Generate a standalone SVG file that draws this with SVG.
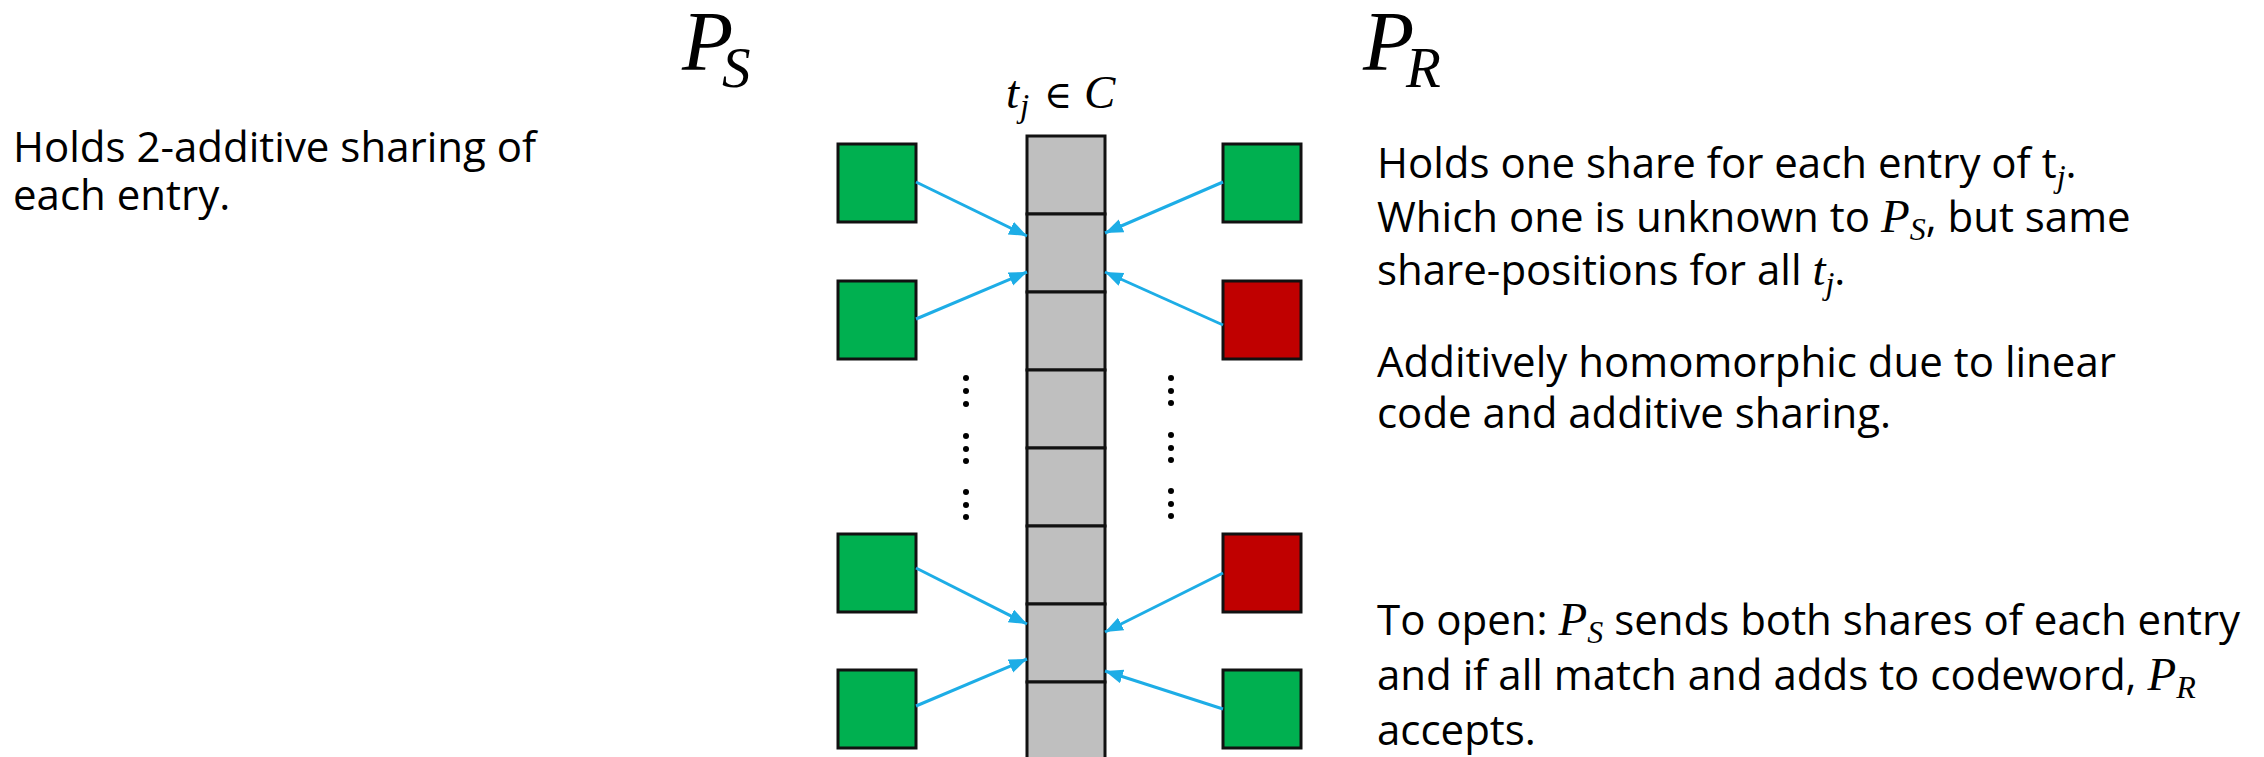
<svg xmlns="http://www.w3.org/2000/svg" width="2264" height="757" viewBox="0 0 2264 757">
  <style>
    .txt { font-family: "Open Sans", "Liberation Sans", sans-serif; font-size: 42px; fill: #000; }
    .mi { font-family: "Liberation Serif", "DejaVu Serif", serif; font-style: italic; fill: #000; }
    .sym { font-family: "DejaVu Serif", "Liberation Serif", serif; fill: #000; }
    .cell { fill: #BFBFBF; stroke: #111; stroke-width: 3; }
    .green { fill: #00B050; stroke: #111; stroke-width: 3; }
    .red { fill: #C00000; stroke: #111; stroke-width: 3; }
    .conn { stroke: #1DADE6; stroke-width: 3; fill: none; marker-end: url(#arrow); }
    .dot { fill: #000; }
  </style>
  <defs>
    <marker id="arrow" markerUnits="userSpaceOnUse" markerWidth="20" markerHeight="16" refX="18" refY="7" orient="auto">
      <path d="M0,0 L18,7 L0,14 Z" fill="#1DADE6"/>
    </marker>
  </defs>
  <rect width="2264" height="757" fill="#fff"/>

  <!-- party headings -->
  <g id="label-ps">
    <text class="mi" x="682" y="70" font-size="84">P</text>
    <text class="mi" x="722" y="87" font-size="57">S</text>
  </g>
  <g id="label-pr">
    <text class="mi" x="1363" y="70" font-size="84">P</text>
    <text class="mi" x="1406" y="87" font-size="57">R</text>
  </g>

  <!-- sender description -->
  <g id="note-sender">
    <text class="txt" x="13" y="162">Holds 2-additive sharing of</text>
    <text class="txt" x="13" y="210">each entry.</text>
  </g>

  <!-- codeword column -->
  <g id="codeword">
    <text class="mi" x="1006" y="108" font-size="47">t</text>
    <text class="mi" x="1020" y="117" font-size="33">j</text>
    <text class="sym" x="1044" y="108" font-size="38">∈</text>
    <text class="mi" x="1084" y="108" font-size="47">C</text>
    <rect class="cell" x="1027" y="136" width="78" height="78"/>
    <rect class="cell" x="1027" y="214" width="78" height="78"/>
    <rect class="cell" x="1027" y="292" width="78" height="78"/>
    <rect class="cell" x="1027" y="370" width="78" height="78"/>
    <rect class="cell" x="1027" y="448" width="78" height="78"/>
    <rect class="cell" x="1027" y="526" width="78" height="78"/>
    <rect class="cell" x="1027" y="604" width="78" height="78"/>
    <rect class="cell" x="1027" y="682" width="78" height="78"/>
  </g>

  <!-- sender shares -->
  <g id="ps-share-1"><rect class="green" x="838" y="144" width="78" height="78"/></g>
  <g id="ps-share-2"><rect class="green" x="838" y="281" width="78" height="78"/></g>
  <g id="ps-share-3"><rect class="green" x="838" y="534" width="78" height="78"/></g>
  <g id="ps-share-4"><rect class="green" x="838" y="670" width="78" height="78"/></g>

  <!-- receiver shares -->
  <g id="pr-share-1"><rect class="green" x="1223" y="144" width="78" height="78"/></g>
  <g id="pr-share-2"><rect class="red" x="1223" y="281" width="78" height="78"/></g>
  <g id="pr-share-3"><rect class="red" x="1223" y="534" width="78" height="78"/></g>
  <g id="pr-share-4"><rect class="green" x="1223" y="670" width="78" height="78"/></g>

  <!-- vertical ellipses -->
  <g id="ellipsis-left">
    <circle class="dot" cx="966" cy="378" r="3"/><circle class="dot" cx="966" cy="391" r="3"/><circle class="dot" cx="966" cy="404" r="3"/>
    <circle class="dot" cx="966" cy="436" r="3"/><circle class="dot" cx="966" cy="449" r="3"/><circle class="dot" cx="966" cy="461" r="3"/>
    <circle class="dot" cx="966" cy="492" r="3"/><circle class="dot" cx="966" cy="505" r="3"/><circle class="dot" cx="966" cy="517" r="3"/>
  </g>
  <g id="ellipsis-right">
    <circle class="dot" cx="1171" cy="378" r="3"/><circle class="dot" cx="1171" cy="391" r="3"/><circle class="dot" cx="1171" cy="403" r="3"/>
    <circle class="dot" cx="1171" cy="435" r="3"/><circle class="dot" cx="1171" cy="448" r="3"/><circle class="dot" cx="1171" cy="460" r="3"/>
    <circle class="dot" cx="1171" cy="491" r="3"/><circle class="dot" cx="1171" cy="504" r="3"/><circle class="dot" cx="1171" cy="516" r="3"/>
  </g>

  <!-- connectors -->
  <g id="connectors">
    <line class="conn" x1="916" y1="182" x2="1027" y2="236"/>
    <line class="conn" x1="1223" y1="182" x2="1105" y2="233"/>
    <line class="conn" x1="916" y1="319" x2="1027" y2="272"/>
    <line class="conn" x1="1223" y1="325" x2="1105" y2="272"/>
    <line class="conn" x1="916" y1="568" x2="1027" y2="624"/>
    <line class="conn" x1="1223" y1="573" x2="1105" y2="632"/>
    <line class="conn" x1="916" y1="706" x2="1027" y2="659"/>
    <line class="conn" x1="1223" y1="709" x2="1105" y2="671"/>
  </g>

  <!-- receiver description -->
  <g id="note-receiver">
    <text class="txt" x="1377" y="178">Holds one share for each entry of t<tspan class="mi" font-size="32" dy="9">j</tspan><tspan dy="-9">.</tspan></text>
    <text class="txt" x="1377" y="232">Which one is unknown to <tspan class="mi" font-size="47">P</tspan><tspan class="mi" font-size="32" dy="8">S</tspan><tspan dy="-8">, but same</tspan></text>
    <text class="txt" x="1377" y="285">share-positions for all <tspan class="mi" font-size="47">t</tspan><tspan class="mi" font-size="32" dy="9">j</tspan><tspan dy="-9">.</tspan></text>
    <text class="txt" x="1377" y="377">Additively homomorphic due to linear</text>
    <text class="txt" x="1377" y="428">code and additive sharing.</text>
  </g>

  <!-- opening step -->
  <g id="note-open">
    <text class="txt" x="1377" y="635">To open: <tspan class="mi" font-size="47">P</tspan><tspan class="mi" font-size="32" dy="8">S</tspan><tspan dy="-8"> sends both shares of each entry</tspan></text>
    <text class="txt" x="1377" y="690">and if all match and adds to codeword, <tspan class="mi" font-size="47">P</tspan><tspan class="mi" font-size="32" dy="8">R</tspan></text>
    <text class="txt" x="1377" y="745">accepts.</text>
  </g>
</svg>
